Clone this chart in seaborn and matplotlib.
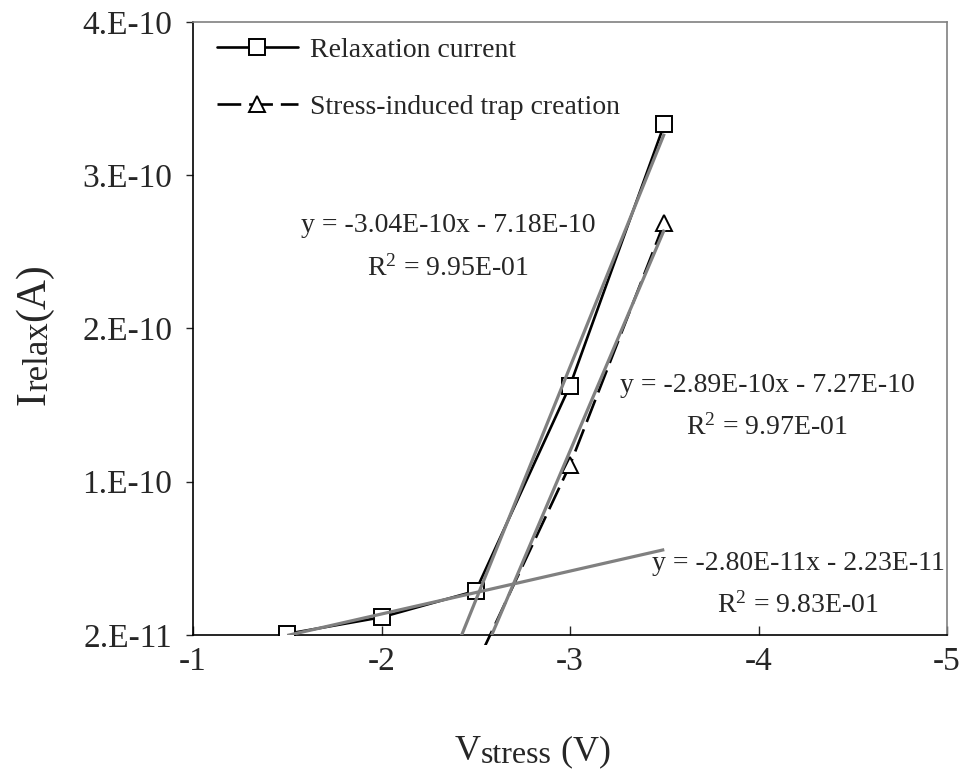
import numpy as np
import pandas as pd
import matplotlib
matplotlib.use("Agg")
import matplotlib.pyplot as plt
import seaborn as sns
from matplotlib.transforms import Bbox, TransformedBbox

# ---------------- data ----------------
v_stress = [-1.5, -2.0, -2.5, -3.0, -3.5]
i_relax = [2.075e-11, 3.156e-11, 4.875e-11, 1.8275e-10, 3.5315e-10]
v_trap = [-2.5, -3.0, -3.5]
i_trap = [0.0, 1.31e-10, 2.89e-10]

series_labels = ["Relaxation current", "Stress-induced trap creation"]

# linear trend lines: (x data, y data, drawn x range)
fit_low_x, fit_low_y = v_stress[0:3], i_relax[0:3]
fit_high_x, fit_high_y = v_stress[2:5], i_relax[2:5]
fit_trap_x, fit_trap_y = v_trap, i_trap
fit_low_span = [-1.5, -3.5]
fit_high_span = [-2.4, -3.5]
fit_trap_span = [-2.5, -3.5]

eq_labels = ["y = -3.04E-10x - 7.18E-10",
             "y = -2.89E-10x - 7.27E-10",
             "y = -2.80E-11x - 2.23E-11"]
r2_labels = [r"R$^{2}$ = 9.95E-01",
             r"R$^{2}$ = 9.97E-01",
             r"R$^{2}$ = 9.83E-01"]

x_ticks = [-1, -2, -3, -4, -5]
x_tick_labels = ["-1", "-2", "-3", "-4", "-5"]
y_ticks = [2e-11, 1.2e-10, 2.2e-10, 3.2e-10, 4.2e-10]
y_tick_labels = ["2.E-11", "1.E-10", "2.E-10", "3.E-10", "4.E-10"]

x_label_parts = [("V", 26, 0), ("stress", 23, 3), (" (V)", 26, 0)]
y_label_parts = [("I", 30, 0), ("relax", 25, 3), ("(A)", 30, 0)]

# ---------------- style ----------------
sns.set_style("white")
plt.rcParams["font.family"] = ["Liberation Serif", "DejaVu Serif"]
plt.rcParams["mathtext.fontset"] = "custom"
plt.rcParams["mathtext.rm"] = "Liberation Serif"
plt.rcParams["mathtext.it"] = "Liberation Serif:italic"
plt.rcParams["axes.unicode_minus"] = False

W, H = 964, 772
fig = plt.figure(figsize=(9.64, 7.72), dpi=100)
fig.patch.set_facecolor("white")
ax = fig.add_axes([0.2002, 0.1775, 0.7822, 0.7940])

df_relax = pd.DataFrame({"V": v_stress, "I": i_relax})
df_trap = pd.DataFrame({"V": v_trap, "I": i_trap})

sns.lineplot(data=df_relax, x="V", y="I", ax=ax, color="black", lw=1.9,
             marker="s", markersize=11, markerfacecolor="white",
             markeredgecolor="black", markeredgewidth=1.4, zorder=3)
line_relax = ax.lines[-1]
sns.lineplot(data=df_trap, x="V", y="I", ax=ax, color="black", lw=1.9,
             linestyle=(0, (9, 3)),
             marker="^", markersize=12, markerfacecolor="white",
             markeredgecolor="black", markeredgewidth=1.4, zorder=3)
line_trap = ax.lines[-1]
# Excel lets this dashed line run a little past the bottom of the plot area
line_trap.set_clip_path(None)
line_trap.set_clip_box(TransformedBbox(Bbox.from_extents(0, -0.017, 1, 1), ax.transAxes))

# trend lines (grey, on top)
for fx, fy, span in [(fit_low_x, fit_low_y, fit_low_span),
                     (fit_high_x, fit_high_y, fit_high_span),
                     (fit_trap_x, fit_trap_y, fit_trap_span)]:
    k, b = np.polyfit(fx, fy, 1)
    xs = np.array(span)
    ax.plot(xs, k * xs + b, color="#808080", lw=2.3, zorder=4,
            solid_capstyle="butt")

# ---------------- axes ----------------
ax.set_xlim(-1, -5)
ax.set_ylim(2e-11, 4.2e-10)
ax.set_xticks(x_ticks)
ax.set_xticklabels(x_tick_labels, fontsize=24)
ax.set_yticks(y_ticks)
ax.set_yticklabels(y_tick_labels, fontsize=24)
ax.tick_params(axis="y", direction="out", length=5, width=1, pad=10, left=True)
ax.tick_params(axis="x", direction="in", length=6.5, width=1, pad=8, bottom=True)
ax.set_xlabel("")
ax.set_ylabel("")

for s in ["left", "bottom"]:
    ax.spines[s].set_color("black")
    ax.spines[s].set_linewidth(1.2)
for s in ["top", "right"]:
    ax.spines[s].set_color("#808080")
    ax.spines[s].set_linewidth(1.2)
ax.grid(False)

# ---------------- axis titles (pieces with subscripts) ----------------
renderer = fig.canvas.get_renderer()

cx, base = 455, 760
for txt, fs, drop in x_label_parts:
    t = fig.text(cx / W, 1 - (base + drop) / H, txt, fontsize=fs,
                 ha="left", va="baseline")
    cx += t.get_window_extent(renderer).width

cy, basex = 405, 44
for txt, fs, drop in y_label_parts:
    t = fig.text((basex + drop) / W, 1 - cy / H, txt, fontsize=fs,
                 ha="left", va="baseline", rotation=90, rotation_mode="anchor")
    cy -= t.get_window_extent(renderer).height

# ---------------- legend ----------------
leg = ax.legend([line_relax, line_trap], series_labels, loc="upper left",
                bbox_to_anchor=(0.032, 0.975), frameon=False, fontsize=20,
                handlelength=2.9, handletextpad=0.45, labelspacing=1.15,
                borderpad=0, borderaxespad=0, numpoints=1)

# ---------------- equations ----------------
eq_pos = [(448, 226), (767, 385), (798, 563)]
r2_pos = [(448, 268), (767, 427), (798, 605)]
for t, (px, py) in zip(eq_labels, eq_pos):
    fig.text(px / W, 1 - py / H, t, ha="center", va="center", fontsize=20)
for t, (px, py) in zip(r2_labels, r2_pos):
    fig.text(px / W, 1 - py / H, t, ha="center", va="center", fontsize=20)

fig.savefig("out.png", dpi=100, facecolor="white")
